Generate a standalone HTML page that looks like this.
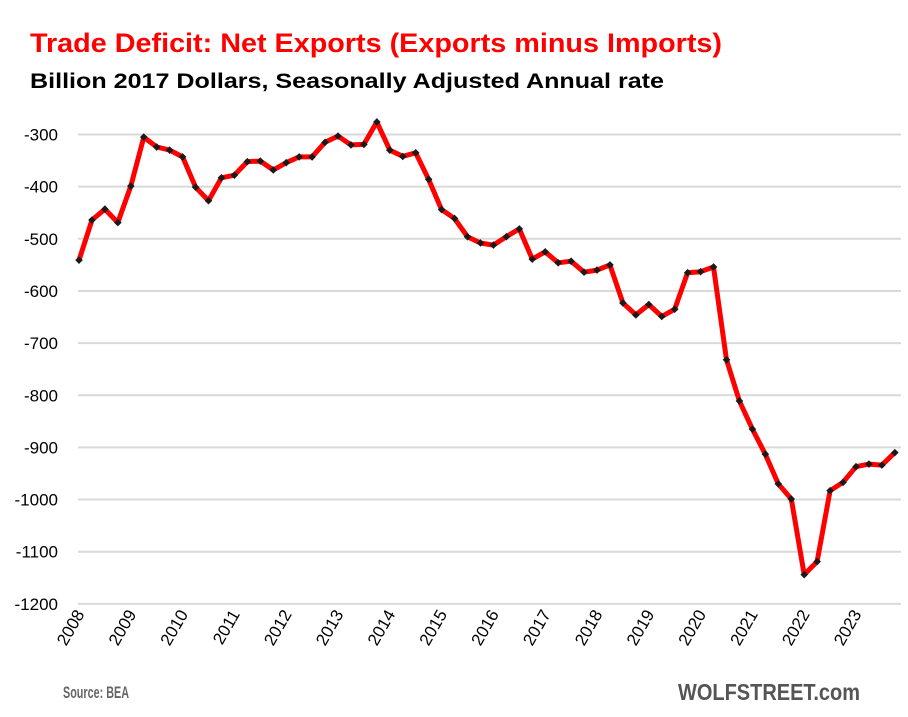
<!DOCTYPE html>
<html><head><meta charset="utf-8"><style>
html,body{margin:0;padding:0;background:#fff;}
svg{display:block;font-family:"Liberation Sans",sans-serif;}
</style></head><body>
<svg id="chart" width="908" height="717" viewBox="0 0 908 717">
<text x="30" y="52" font-size="27" font-weight="bold" fill="#ff0000" textLength="692" lengthAdjust="spacingAndGlyphs">Trade Deficit: Net Exports (Exports minus Imports)</text>
<text x="30" y="88" font-size="21" font-weight="bold" fill="#000" textLength="634" lengthAdjust="spacingAndGlyphs">Billion 2017 Dollars, Seasonally Adjusted Annual rate</text>
<g id="grid"></g><g id="yticks"></g><g id="xticks"></g><g id="series"></g>
<text x="63" y="698" font-size="17" font-weight="bold" fill="#666" textLength="66" lengthAdjust="spacingAndGlyphs">Source: BEA</text>
<text x="678" y="700" font-size="23" font-weight="bold" fill="#555" textLength="182" lengthAdjust="spacingAndGlyphs">WOLFSTREET.com</text>
</svg>
<script>
const years = [2008,2009,2010,2011,2012,2013,2014,2015,2016,2017,2018,2019,2020,2021,2022,2023];
const yTicks = [-300,-400,-500,-600,-700,-800,-900,-1000,-1100,-1200];
const netExports = [-541,-464,-443,-469,-399,-305,-324,-330,-343,-401,-427,-383,-378,-352,-351,-368,
-354,-343,-343,-315,-303,-320,-319,-276,-330,-342,-335,-386,-444,-461,-496,-508,
-512,-496,-481,-539,-525,-546,-543,-564,-560,-550,-623,-646,-626,-649,-635,-565,
-563,-554,-732,-811,-865,-913,-970,-999,-1144,-1119,-983,-967,-937,-932,-934,-910];
const NS="http://www.w3.org/2000/svg";
const x0=79, step=12.95;
function xPos(i){return x0+i*step;}
function yPos(v){return 134.5+(-300-v)*0.5215;}
function mk(t,a,p){const e=document.createElementNS(NS,t);for(const k in a)e.setAttribute(k,a[k]);p.appendChild(e);return e;}
const grid=document.getElementById('grid'),yt=document.getElementById('yticks'),xt=document.getElementById('xticks'),ser=document.getElementById('series');
yTicks.forEach(v=>{
 const l=mk('line',{x1:78,x2:901,y1:yPos(v),y2:yPos(v),stroke:'#d9d9d9','stroke-width':2},grid);
 
 
 const t=mk('text',{x:58,y:yPos(v)+6,'text-anchor':'end','font-size':17,fill:'#000'},yt);
 t.textContent=v;
 
 
});
years.forEach((yr,k)=>{
 const x=xPos(k*4)+6, y=614;
 const t=mk('text',{x:x,y:y,'text-anchor':'end','font-size':17,fill:'#000',transform:`rotate(-60 ${x} ${y})`},xt);
 t.textContent=yr;
 
 
});
const pts=netExports.map((v,i)=>xPos(i).toFixed(1)+','+yPos(v).toFixed(1)).join(' ');
const pl=mk('polyline',{points:pts,fill:'none',stroke:'#ff0000','stroke-width':5,'stroke-linejoin':'round'},ser);


netExports.forEach((v,i)=>{
 const cx=xPos(i),cy=yPos(v),r=3.8;
 const m=mk('polygon',{points:`${cx},${cy-r} ${cx+r},${cy} ${cx},${cy+r} ${cx-r},${cy}`,fill:'#1a1a1a'},ser);
 
 
});
</script>
</body></html>
